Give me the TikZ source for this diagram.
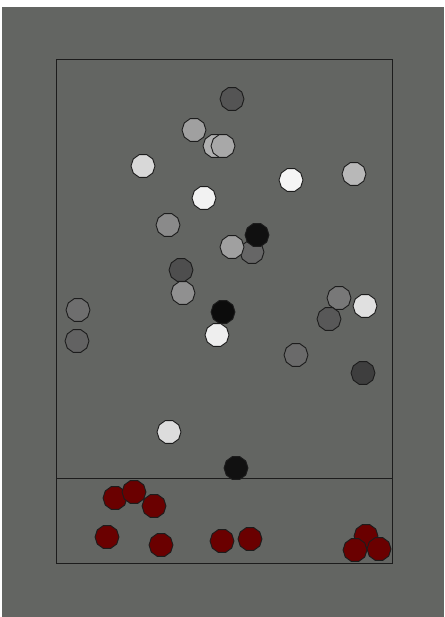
\documentclass[tikz,border=0pt]{standalone}
\usetikzlibrary{shapes.geometric}
\definecolor{bg-gray}{RGB}{99,101,98}
\definecolor{ball-red}{RGB}{106,0,0}
\definecolor{edge-dark}{RGB}{28,28,28}
\tikzset{ball/.style={regular polygon, regular polygon sides=10, draw=edge-dark,
    line width=0.9pt, minimum size=24pt, inner sep=0pt}}
\begin{document}
\begin{tikzpicture}[x=1pt, y=-1pt]
    \useasboundingbox (0,0) rectangle (444,617);
    \fill[white] (0,0) rectangle (444,617);
    \fill[bg-gray] (2,7) rectangle (444,617);
    % container and floor line
    \draw[edge-dark, line width=1pt] (56,60) rectangle (392,563);
    \draw[edge-dark, line width=1pt] (56,478) -- (392,478);
    % grey balls, drawn back to front
    \foreach \x/\y/\g [count=\i] in {232/99/84, 194/130/160, 215/146/176, 223/146/168,
        143/166/216, 291/180/245, 354/174/184, 204/198/242, 168/225/138,
        252/252/102, 232/247/160, 257/235/16, 181/270/78, 183/293/144,
        223/312/12, 217/335/238, 78/310/110, 77/341/98, 339/298/120,
        365/306/224, 329/319/88, 296/355/106, 363/373/62, 169/432/220,
        236/468/17} {
      \node[ball, fill={rgb,255:red,\g;green,\g;blue,\g}] (g\i) at (\x,\y) {};
    }
    % red balls on the floor
    \foreach \x/\y [count=\i] in {115/498, 134/492, 154/506, 107/537, 161/545,
        222/541, 250/539, 366/536, 379/549, 355/550} {
      \node[ball, fill=ball-red] (r\i) at (\x,\y) {};
    }
\end{tikzpicture}
\end{document}
